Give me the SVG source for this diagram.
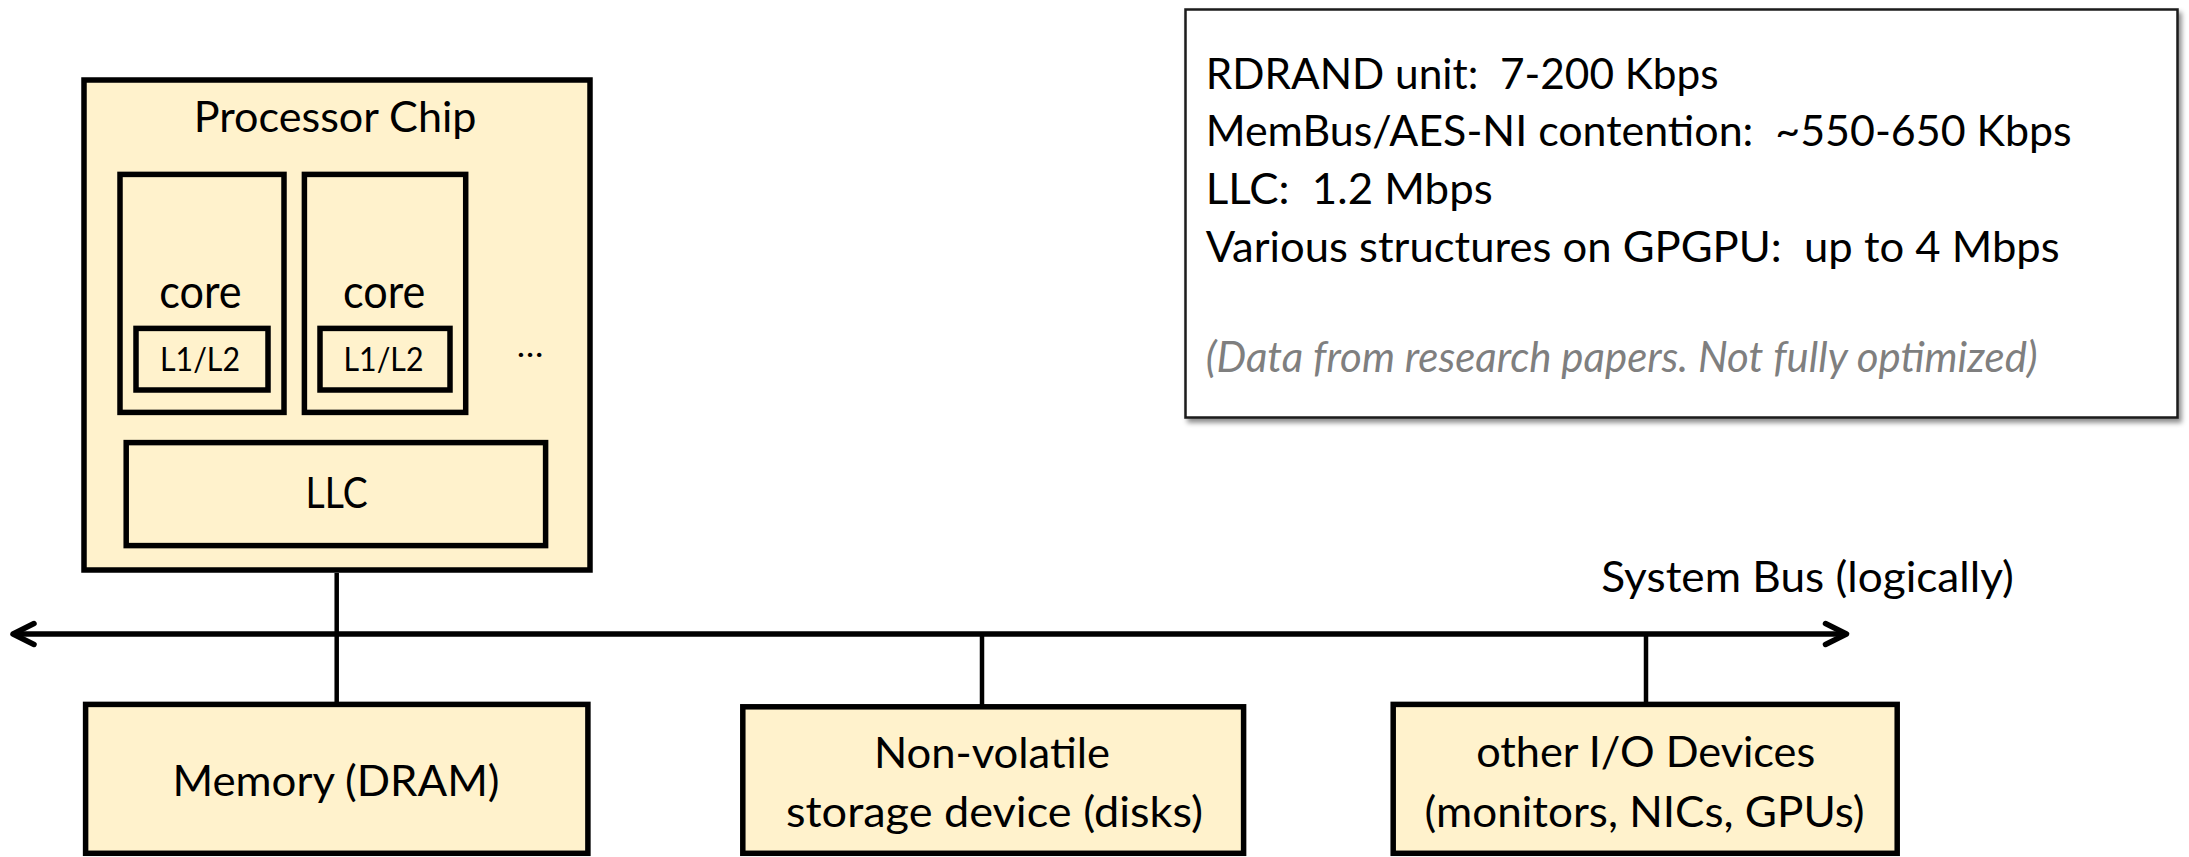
<svg xmlns="http://www.w3.org/2000/svg" width="2189" height="857" viewBox="0 0 2189 857">
  <style>
    .box { fill: #FFF2CC; stroke: #000; stroke-width: 5.5; }
    .t { font-family: Lato, "Liberation Sans", "DejaVu Sans", sans-serif; fill: #000; }
    .info { font-family: Lato, "Liberation Sans", "DejaVu Sans", sans-serif; fill: #000; font-size: 42px; }
    .note { font-family: Lato, "Liberation Sans", "DejaVu Sans", sans-serif; fill: #7F7F7F; font-size: 42px; font-style: italic; }
    .wire { stroke: #000; stroke-width: 4.5; fill: none; }
    .bus { stroke: #000; stroke-width: 5.5; fill: none; }
  </style>
  <defs>
    <marker id="chev" markerUnits="userSpaceOnUse" viewBox="-30 -16 36 32" markerWidth="36" markerHeight="32" refX="0" refY="0" orient="auto-start-reverse" overflow="visible">
      <path d="M-21,-10.5 L0,0 L-21,10.5" fill="none" stroke="#000" stroke-width="5.5" stroke-linecap="round" stroke-linejoin="round"/>
    </marker>
    <filter id="shadow" x="-5%" y="-5%" width="110%" height="115%">
      <feDropShadow dx="3" dy="4" stdDeviation="2.5" flood-color="#000" flood-opacity="0.45"/>
    </filter>
  </defs>
  <rect width="2189" height="857" fill="#fff"/>

  <g id="connectors">
    <path class="wire" d="M336.7,573 L336.7,702"/>
    <path class="wire" d="M982,634 L982,705"/>
    <path class="wire" d="M1646,634 L1646,702"/>
    <path class="bus" d="M13,634 L1846.5,634" marker-start="url(#chev)" marker-end="url(#chev)"/>
  </g>

  <g id="processor-chip">
    <rect class="box" x="84" y="80" width="506" height="490"/>
    <text class="t" x="193.8" y="132.3" font-size="42" textLength="282.7" lengthAdjust="spacingAndGlyphs">Processor Chip</text>
  </g>

  <g id="core1">
    <rect class="box" x="120" y="174.4" width="164" height="238"/>
    <text class="t" x="159.3" y="308.3" font-size="46" textLength="82.3" lengthAdjust="spacingAndGlyphs">core</text>
  </g>
  <g id="cache1">
    <rect class="box" x="136" y="328.4" width="132" height="61.6"/>
    <text class="t" x="160" y="370.7" font-size="33.5" textLength="80" lengthAdjust="spacingAndGlyphs">L1/L2</text>
  </g>

  <g id="core2">
    <rect class="box" x="304.4" y="174.4" width="161.3" height="238"/>
    <text class="t" x="343" y="308.3" font-size="46" textLength="82.3" lengthAdjust="spacingAndGlyphs">core</text>
  </g>
  <g id="cache2">
    <rect class="box" x="320" y="328.4" width="130" height="61.6"/>
    <text class="t" x="343.5" y="370.7" font-size="33.5" textLength="80" lengthAdjust="spacingAndGlyphs">L1/L2</text>
  </g>

  <g id="ellipsis">
    <text class="t" x="516.7" y="356.7" font-size="33" textLength="26.6" lengthAdjust="spacingAndGlyphs">…</text>
  </g>

  <g id="llc">
    <rect class="box" x="126.2" y="442.6" width="419.4" height="103"/>
    <text class="t" x="305.6" y="507.7" font-size="42" textLength="62" lengthAdjust="spacingAndGlyphs">LLC</text>
  </g>

  <g id="memory">
    <rect class="box" x="85.6" y="704.4" width="502.3" height="148.9"/>
    <text class="t" x="172.5" y="796" font-size="42" textLength="327" lengthAdjust="spacingAndGlyphs">Memory (DRAM)</text>
  </g>

  <g id="storage">
    <rect class="box" x="742.8" y="706.8" width="500.8" height="146.5"/>
    <text class="t" x="874" y="768.3" font-size="42" textLength="236" lengthAdjust="spacingAndGlyphs">Non-volatile</text>
    <text class="t" x="786" y="826.7" font-size="42" textLength="417" lengthAdjust="spacingAndGlyphs">storage device (disks)</text>
  </g>

  <g id="io-devices">
    <rect class="box" x="1393.2" y="704.4" width="504" height="148.9"/>
    <text class="t" x="1476.2" y="766.7" font-size="42" textLength="339" lengthAdjust="spacingAndGlyphs">other I/O Devices</text>
    <text class="t" x="1424.6" y="826.7" font-size="42" textLength="440" lengthAdjust="spacingAndGlyphs">(monitors, NICs, GPUs)</text>
  </g>

  <g id="bus-label">
    <text class="t" x="1601.3" y="591.7" font-size="42" textLength="412.5" lengthAdjust="spacingAndGlyphs">System Bus (logically)</text>
  </g>

  <g id="info-box">
    <rect x="1185.5" y="9.5" width="992" height="408" fill="#fff" stroke="#1a1a1a" stroke-width="2.5" filter="url(#shadow)"/>
    <text class="info" xml:space="preserve" x="1205.7" y="88.5" textLength="513" lengthAdjust="spacingAndGlyphs">RDRAND unit:  7-200 Kbps</text>
    <text class="info" xml:space="preserve" x="1205.7" y="146" textLength="866" lengthAdjust="spacingAndGlyphs">MemBus/AES-NI contention:  ~550-650 Kbps</text>
    <text class="info" xml:space="preserve" x="1205.7" y="204" textLength="287" lengthAdjust="spacingAndGlyphs">LLC:  1.2 Mbps</text>
    <text class="info" xml:space="preserve" x="1205.7" y="261.5" textLength="854" lengthAdjust="spacingAndGlyphs">Various structures on GPGPU:  up to 4 Mbps</text>
    <text class="note" x="1205.7" y="371.5" textLength="832" lengthAdjust="spacingAndGlyphs">(Data from research papers. Not fully optimized)</text>
  </g>
</svg>
